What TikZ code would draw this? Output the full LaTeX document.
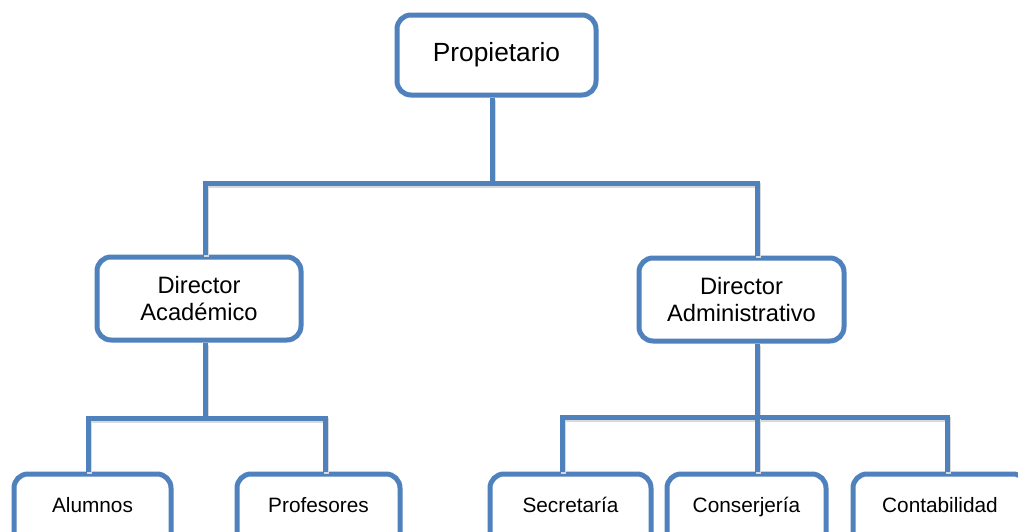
\documentclass[tikz,border=0pt]{standalone}
\usepackage{fontspec}
\setmainfont{Liberation Sans}
\definecolor{obl}{HTML}{4F81BD}
\begin{document}
\begin{tikzpicture}[x=1pt,y=-1pt,
  box/.style={draw=obl, line width=5pt, rounded corners=14pt, fill=white, align=center, inner sep=0pt},
  topbox/.style={box, font=\fontsize{26.3}{30}\selectfont},
  dirbox/.style={box, minimum height=83pt, font=\fontsize{23.7}{27}\selectfont},
  botbox/.style={box, minimum height=86pt, text height=15pt, text depth=25pt, font=\fontsize{20.8}{25}\selectfont},
  conn/.style={draw=obl, line width=5pt, preaction={draw=black!15, line width=5pt, transform canvas={shift={(1pt,-2pt)}}}},
]
\useasboundingbox (0,0) rectangle (1018,531);
\clip (0,0) rectangle (1018,531);
\fill[white] (0,0) rectangle (1018,531);

\node[topbox, minimum width=199pt, minimum height=80pt] (prop) at (496.5,55) {Propietario};
\node[dirbox, minimum width=204pt] (acad) at (199,298.5) {Director\\Académico};
\node[dirbox, minimum width=205pt] (admin) at (741.5,299.5) {Director\\Administrativo};

\node[botbox, minimum width=157pt] (alum) at (92.5,517) {Alumnos};
\node[botbox, minimum width=163pt] (prof) at (318.5,517) {Profesores};
\node[botbox, minimum width=161pt] (secr) at (570.5,517) {Secretaría};
\node[botbox, minimum width=159pt] (conser) at (746.5,517) {Conserjería};
\node[botbox, minimum width=174pt] (contab) at (940,517) {Contabilidad};

\coordinate (t1) at (492,183);
\coordinate (tL) at (205,183);
\coordinate (tR) at (757,183);
\draw[conn] (prop.south -| t1) -- (t1);
\draw[conn] (acad.north -| tL) -- (tL) -- (tR) -- (admin.north -| tR);

\coordinate (aL) at (88,418);
\coordinate (aM) at (205,418);
\coordinate (aR) at (325,418);
\draw[conn] (acad.south -| aM) -- (aM);
\draw[conn] (alum.north -| aL) -- (aL) -- (aR) -- (prof.north -| aR);

\coordinate (dL) at (562,417);
\coordinate (dM) at (757,417);
\coordinate (dR) at (947,417);
\draw[conn] (admin.south -| dM) -- (dM);
\draw[conn] (secr.north -| dL) -- (dL) -- (dR) -- (contab.north -| dR);
\draw[conn] (dM) -- (conser.north -| dM);
\end{tikzpicture}
\end{document}
